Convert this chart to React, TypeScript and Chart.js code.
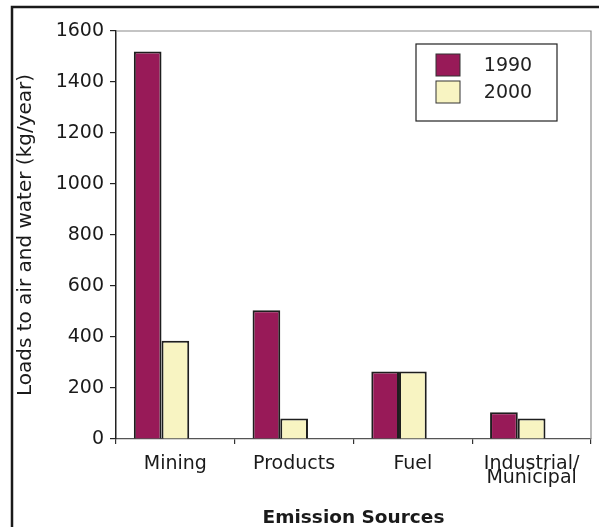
import React, { useEffect, useRef } from "react";
import { Chart, registerables } from "chart.js";

Chart.register(...registerables);

const categories: (string | string[])[] = ["Mining", "Products", "Fuel", ["Industrial/", "Municipal"]];
const seriesNames = ["1990", "2000"];
const values1990 = [1520, 505, 265, 105];
const values2000 = [385, 80, 265, 80];
const spacerValues = [null, null, null, null];
const yMin = 0;
const yMax = 1600;
const yStep = 200;
const yTitle = "Loads to air and water (kg/year)";
const xTitle = "Emission Sources";

const color1990 = "#981a58";
const color2000 = "#f8f4c2";
const edge = "#1e1e1e";
const FONT = "'DejaVu Sans', 'Liberation Sans', Arial, sans-serif";

const framePlugin = {
  id: "frame",
  beforeDraw(chart: any) {
    const { ctx, width, height } = chart;
    ctx.save();
    ctx.fillStyle = "#ffffff";
    ctx.fillRect(0, 0, width, height);
    ctx.strokeStyle = "#1a1a1a";
    ctx.lineWidth = 2.5;
    ctx.beginPath();
    ctx.moveTo(12, height + 5);
    ctx.lineTo(12, 7);
    ctx.lineTo(width + 5, 7);
    ctx.stroke();
    ctx.restore();
  },
  afterDatasetsDraw(chart: any) {
    const { ctx, chartArea } = chart;
    ctx.save();
    ctx.strokeStyle = "#8a8a8a";
    ctx.lineWidth = 1.2;
    ctx.beginPath();
    ctx.moveTo(chartArea.left, chartArea.top);
    ctx.lineTo(chartArea.right, chartArea.top);
    ctx.lineTo(chartArea.right, chartArea.bottom);
    ctx.stroke();
    ctx.restore();
  },
};

const legendPlugin = {
  id: "boxLegend",
  afterDraw(chart: any) {
    const { ctx, chartArea } = chart;
    const w = 141;
    const h = 77;
    const left = chartArea.right - 34 - w;
    const top = chartArea.top + 13;
    ctx.save();
    ctx.fillStyle = "#ffffff";
    ctx.fillRect(left, top, w, h);
    ctx.strokeStyle = "#222";
    ctx.lineWidth = 1.2;
    ctx.strokeRect(left, top, w, h);
    const ds = chart.data.datasets.slice(0, 2);
    ds.forEach((d: any, i: number) => {
      const sy = top + 10 + i * 27;
      ctx.fillStyle = d.backgroundColor;
      ctx.fillRect(left + 20, sy, 24, 22);
      ctx.strokeStyle = "#333";
      ctx.lineWidth = 1;
      ctx.strokeRect(left + 20, sy, 24, 22);
      ctx.fillStyle = "#222";
      ctx.font = `19px ${FONT}`;
      ctx.textAlign = "center";
      ctx.textBaseline = "middle";
      ctx.fillText(d.label, left + 92, sy + 12);
    });
    ctx.restore();
  },
};

export default function App() {
  const ref = useRef<HTMLCanvasElement | null>(null);
  useEffect(() => {
    if (!ref.current) return;
    const chart = new Chart(ref.current, {
      type: "bar",
      data: {
        labels: categories,
        datasets: [
          {
            label: seriesNames[0],
            data: values1990,
            backgroundColor: color1990,
            borderColor: edge,
            borderWidth: 2,
          },
          {
            label: seriesNames[1],
            data: values2000,
            backgroundColor: color2000,
            borderColor: edge,
            borderWidth: 2,
          },
          {
            label: "",
            data: spacerValues as any,
            backgroundColor: "rgba(0,0,0,0)",
            borderWidth: 0,
          },
        ],
      },
      options: {
        animation: false,
        responsive: false,
        devicePixelRatio: 1,
        categoryPercentage: 0.7,
        barPercentage: 1,
        layout: { padding: { left: 0, top: 31, right: 8, bottom: 0 } },
        plugins: {
          legend: { display: false },
          tooltip: { enabled: false },
        },
        scales: {
          x: {
            grid: {
              drawOnChartArea: false,
              drawTicks: true,
              tickLength: 5,
              color: "#333",
              lineWidth: 1.2,
            },
            border: { color: "#555", width: 1.2 },
            ticks: {
              color: "#1a1a1a",
              font: { family: FONT, size: 19, lineHeight: 0.75 },
              padding: 13,
              maxRotation: 0,
              autoSkip: false,
            },
            title: {
              display: true,
              text: xTitle,
              color: "#1a1a1a",
              font: { family: FONT, size: 18.5, weight: "bold", lineHeight: 1 },
              padding: 0,
            },
            afterFit: (s: any) => {
              s.height = 88;
            },
          } as any,
          y: {
            min: yMin,
            max: yMax,
            grid: {
              drawOnChartArea: false,
              drawTicks: true,
              tickLength: 6,
              color: "#222",
              lineWidth: 1.2,
            },
            border: { color: "#222", width: 1.5 },
            ticks: {
              stepSize: yStep,
              color: "#1a1a1a",
              font: { family: FONT, size: 19 },
              padding: 6,
              callback: (v: any) => String(v),
            },
            title: {
              display: true,
              text: yTitle,
              color: "#1a1a1a",
              font: { family: FONT, size: 20 },
              padding: { top: 14, bottom: 0 },
            },
            afterFit: (s: any) => {
              s.width = 116;
            },
          } as any,
        },
      },
      plugins: [framePlugin, legendPlugin],
    });
    return () => chart.destroy();
  }, []);
  return (
    <div style={{ position: "fixed", left: 0, top: 0, width: 599, height: 527, background: "#fff" }}>
      <canvas ref={ref} width={599} height={527} style={{ display: "block" }} />
    </div>
  );
}
